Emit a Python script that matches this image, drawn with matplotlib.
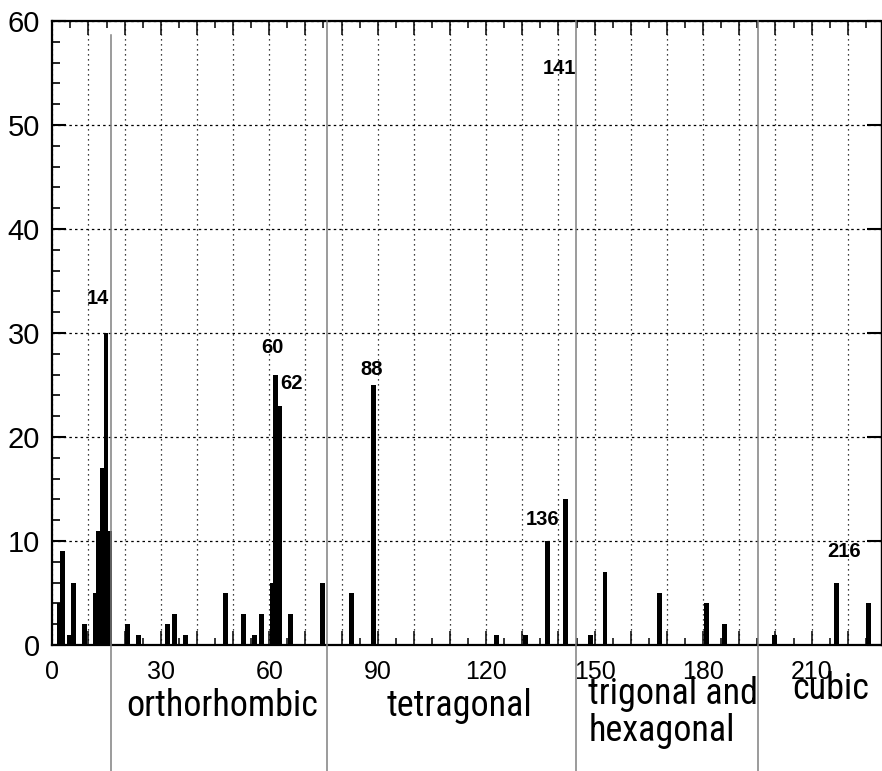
import numpy as np
import matplotlib
matplotlib.use("Agg")
import matplotlib.pyplot as plt
from matplotlib.ticker import MultipleLocator, FuncFormatter
from matplotlib import font_manager as fm

# ---- data: space-group number -> count ----
space_groups = [1, 2, 4, 5, 8, 11, 12, 13, 14, 15,
                20, 23, 31, 33, 36, 47, 52, 55, 57, 60, 61, 62, 65, 74,
                82, 88, 122, 130, 136, 141,
                148, 152, 167, 180, 185,
                199, 216, 225]
counts = [4, 9, 1, 6, 2, 5, 11, 17, 30, 11,
          2, 1, 2, 3, 1, 5, 3, 1, 3, 6, 26, 23, 3, 6,
          5, 25, 1, 1, 10, 14,
          1, 7, 5, 4, 2,
          1, 6, 4]

# last space group of each crystal system (separators)
system_ends = [15, 74, 142, 194]
system_names = ["orthorhombic", "tetragonal", "trigonal and\nhexagonal", "cubic"]

# highlighted space-group labels
peak_labels = ["14", "60", "62", "88", "136", "141", "216"]

x_tick_labels = [0, 30, 60, 90, 120, 150, 180, 210]

# ---- fonts: look for a condensed face, else fall back ----
entries = fm.fontManager.ttflist
narrow_font = None
narrow_stretch = "normal"
for f in entries:
    if f.name in ("Liberation Sans Narrow", "Arial Narrow", "Roboto Condensed",
                  "Open Sans Condensed", "Noto Sans Condensed"):
        narrow_font = f.name
        break
if narrow_font is None:
    for f in entries:
        if f.name == "DejaVu Sans" and str(f.stretch) in ("condensed", "semi-condensed"):
            narrow_font = "DejaVu Sans"
            narrow_stretch = f.stretch
            break
if narrow_font is None:
    for f in entries:
        if f.name in ("Noto Sans", "Open Sans", "Inter") and str(f.stretch) in ("condensed", "semi-condensed", "extra-condensed"):
            narrow_font = f.name
            narrow_stretch = f.stretch
            break
regular = ["Liberation Sans", "DejaVu Sans"]
if narrow_font is not None:
    cat_family, cat_size, cat_stretch = [narrow_font, "DejaVu Sans"], 26, narrow_stretch
else:
    cat_family, cat_size, cat_stretch = regular, 22, "normal"

# ---- figure ----
W, H = 882, 771
fig = plt.figure(figsize=(W / 100, H / 100), dpi=100)
L, R, B, T = 52.3, 881, 645, 21
ax = fig.add_axes([L / W, (H - B) / H, (R - L) / W, (B - T) / H])

OFF = 0.85  # bin-centre offset as drawn in the original
ax.bar(np.array(space_groups) + OFF, counts, width=1.35, color="black",
       linewidth=0, zorder=3)

ax.set_xlim(0, 229.2)
ax.set_ylim(0, 60)

# ticks
ax.xaxis.set_major_locator(MultipleLocator(10))
ax.xaxis.set_minor_locator(MultipleLocator(5))
ax.xaxis.set_major_formatter(FuncFormatter(
    lambda v, p: str(int(round(v))) if int(round(v)) in x_tick_labels else ""))
ax.yaxis.set_major_locator(MultipleLocator(10))
ax.yaxis.set_minor_locator(MultipleLocator(2))

ax.tick_params(axis="x", which="both", direction="in", top=True, bottom=True)
ax.tick_params(axis="x", which="major", length=10, width=1.1, pad=11)
ax.tick_params(axis="x", which="minor", length=5, width=1.1)
ax.tick_params(axis="y", which="major", direction="in", left=True, right=True,
               length=10, width=1.5, pad=9)
ax.tick_params(axis="y", which="minor", direction="in", left=True, right=False,
               length=6, width=1.2)
for lab in ax.get_xticklabels():
    lab.set_fontfamily(regular)
    lab.set_fontsize(18)
for lab in ax.get_yticklabels():
    lab.set_fontfamily(regular)
    lab.set_fontsize(21)

for s in ["left", "bottom", "top"]:
    ax.spines[s].set_linewidth(1.6)
ax.spines["right"].set_linewidth(1.0)

# grid
ax.set_axisbelow(True)
ax.grid(axis="x", which="major", color="black", linestyle=(0, (1, 3)), linewidth=0.9)
ax.grid(axis="y", which="major", color="black", linestyle=(0, (2, 2.5)), linewidth=0.9)

# crystal-system separators, extending below the axis
xt = ax.get_xaxis_transform()
sep_nudge = [0.0, 0.75, 1.4, -0.15]
for i, e in enumerate(system_ends):
    top = 0.978 if i == 0 else 1.0
    xs = e + 0.5 + OFF + sep_nudge[i]
    ax.plot([xs, xs], [top, -0.25], transform=xt, color="#808080",
            linewidth=1.1, clip_on=False, zorder=4)

# crystal-system names
name_pos = [(47.1, -0.098, "center"), (112.5, -0.098, "center"),
            (148.2, -0.108, "left"), (215.4, -0.070, "center")]
for name, (x, y, ha) in zip(system_names, name_pos):
    ax.text(x, y, name, transform=xt, ha=ha, va="center", fontsize=cat_size,
            family=cat_family, fontstretch=cat_stretch, linespacing=1.05)

# peak labels
peak_pos = [(12.6, 33.3), (60.8, 28.6), (66.2, 25.1), (88.4, 26.5),
            (135.7, 12.05), (140.4, 55.4), (218.9, 9.0)]
for t, (x, y) in zip(peak_labels, peak_pos):
    ax.text(x, y, t, ha="center", va="center", fontsize=14.5,
            fontweight="bold", family=regular, zorder=5)

fig.savefig("out.png", dpi=100)
